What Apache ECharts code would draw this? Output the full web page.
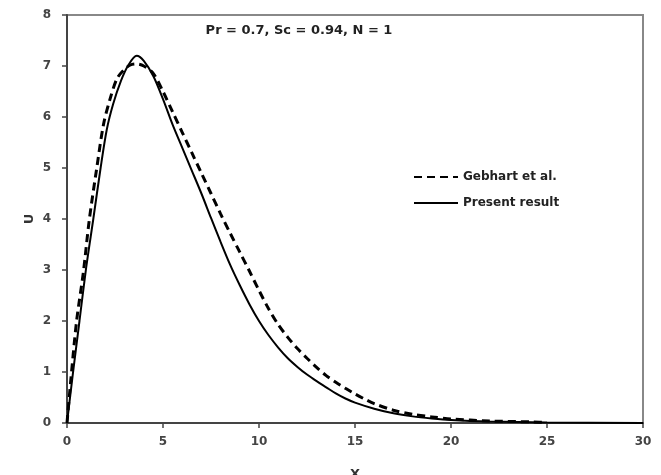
<!DOCTYPE html>
<html>
<head>
<meta charset="utf-8">
<script src="https://cdn.jsdelivr.net/npm/echarts@6/dist/echarts.min.js"></script>
<style>html,body{margin:0;padding:0;background:#fff}#c{width:661px;height:475px}</style>
</head>
<body>
<div id="c"></div>
<script>
// Gebhart et al. (dashed)
var gebhartX = [0, 0.2, 0.5, 0.85, 1.16, 1.55, 1.9, 2.24, 2.6, 2.95, 3.3, 3.6, 4.0, 4.5, 5.0, 5.5, 6.0, 6.5, 7.0, 7.5, 8.0, 8.5, 9.0, 9.5, 10.0, 10.5, 11.0, 11.5, 12.0, 12.5, 13.0, 13.5, 14.0, 14.5, 15.0, 15.5, 16.0, 17.0, 18.0, 19.0, 20, 22, 24.3, 25];
var gebhartU = [0, 0.85, 2.0, 2.95, 3.98, 5.0, 5.85, 6.35, 6.75, 6.92, 7.02, 7.04, 7.0, 6.85, 6.5, 6.1, 5.7, 5.3, 4.9, 4.5, 4.1, 3.72, 3.35, 2.98, 2.6, 2.24, 1.93, 1.68, 1.46, 1.27, 1.09, 0.93, 0.8, 0.68, 0.57, 0.47, 0.38, 0.25, 0.17, 0.12, 0.08, 0.04, 0.02, 0.01];
// Present result (solid)
var presentX = [0, 0.3, 0.65, 1.0, 1.37, 1.75, 2.07, 2.4, 2.8, 3.2, 3.63, 4.0, 4.5, 5.0, 5.5, 6.0, 6.5, 7.0, 7.5, 8.0, 8.5, 9.0, 9.5, 10.0, 10.5, 11.0, 11.5, 12.0, 12.5, 13.0, 13.5, 14.0, 14.5, 15.0, 16.0, 17.0, 18.0, 19.0, 20, 22, 25, 30];
var presentU = [0, 0.95, 2.0, 3.05, 4.0, 5.0, 5.75, 6.25, 6.7, 7.02, 7.2, 7.1, 6.8, 6.35, 5.85, 5.4, 4.95, 4.5, 4.02, 3.55, 3.1, 2.7, 2.33, 2.0, 1.72, 1.48, 1.27, 1.1, 0.95, 0.82, 0.7, 0.58, 0.48, 0.4, 0.28, 0.19, 0.13, 0.09, 0.06, 0.03, 0.01, 0];
var xTicks = [0, 5, 10, 15, 20, 25, 30];
var yTicks = [0, 1, 2, 3, 4, 5, 6, 7, 8];
var titleText = 'Pr = 0.7, Sc = 0.94, N = 1';
var seriesNames = ['Gebhart et al.', 'Present result'];

function pairs(xs, ys) { return xs.map(function (x, i) { return [x, ys[i]]; }); }

var chart = echarts.init(document.getElementById('c'), null, { renderer: 'canvas' });
var font = 'DejaVu Sans';
chart.setOption({
  backgroundColor: '#fff',
  animation: false,
  title: {
    text: titleText, left: 294, top: 19, textAlign: 'center',
    textStyle: { fontFamily: font, fontSize: 13, fontWeight: 'bold', color: '#222' }
  },
  legend: {
    orient: 'vertical', left: 408, top: 166, itemWidth: 44, itemHeight: 12, itemGap: 14,
    data: seriesNames,
    itemStyle: { opacity: 0 },
    textStyle: { fontFamily: font, fontSize: 12, fontWeight: 'bold', color: '#222' }
  },
  grid: { left: 67, right: 18, top: 15, bottom: 52, show: true, borderColor: '#888', borderWidth: 2, containLabel: false, outerBoundsMode: 'none' },
  xAxis: {
    type: 'value', min: xTicks[0], max: xTicks[xTicks.length - 1], interval: 5,
    name: 'X', nameLocation: 'middle', nameGap: 45,
    nameTextStyle: { fontFamily: font, fontSize: 13, fontWeight: 'bold', color: '#333' },
    axisLine: { show: true, lineStyle: { color: '#444', width: 2 } },
    axisTick: { show: true, inside: false, length: 5, lineStyle: { color: '#444', width: 1.5 } },
    axisLabel: { fontFamily: font, fontSize: 12, fontWeight: 'bold', color: '#444', margin: 13 },
    splitLine: { show: false }
  },
  yAxis: {
    type: 'value', min: yTicks[0], max: yTicks[yTicks.length - 1], interval: 1,
    name: 'U', nameLocation: 'middle', nameGap: 31, nameRotate: 90, nameMoveOverlap: false,
    nameTextStyle: { fontFamily: font, fontSize: 13, fontWeight: 'bold', color: '#333' },
    axisLine: { show: true, lineStyle: { color: '#444', width: 2 } },
    axisTick: { show: true, inside: false, length: 5, lineStyle: { color: '#444', width: 1.5 } },
    axisLabel: { fontFamily: font, fontSize: 12, fontWeight: 'bold', color: '#444', margin: 16 },
    splitLine: { show: false }
  },
  series: [
    {
      name: seriesNames[0], type: 'line', data: pairs(gebhartX, gebhartU),
      showSymbol: false, symbol: 'none', smooth: 0.3,
      itemStyle: { color: '#000' },
      lineStyle: { color: '#000', width: 3, type: [8, 5] }
    },
    {
      name: seriesNames[1], type: 'line', data: pairs(presentX, presentU),
      showSymbol: false, symbol: 'none', smooth: 0.3,
      itemStyle: { color: '#000' },
      lineStyle: { color: '#000', width: 2 }
    }
  ]
});
</script>
</body>
</html>
